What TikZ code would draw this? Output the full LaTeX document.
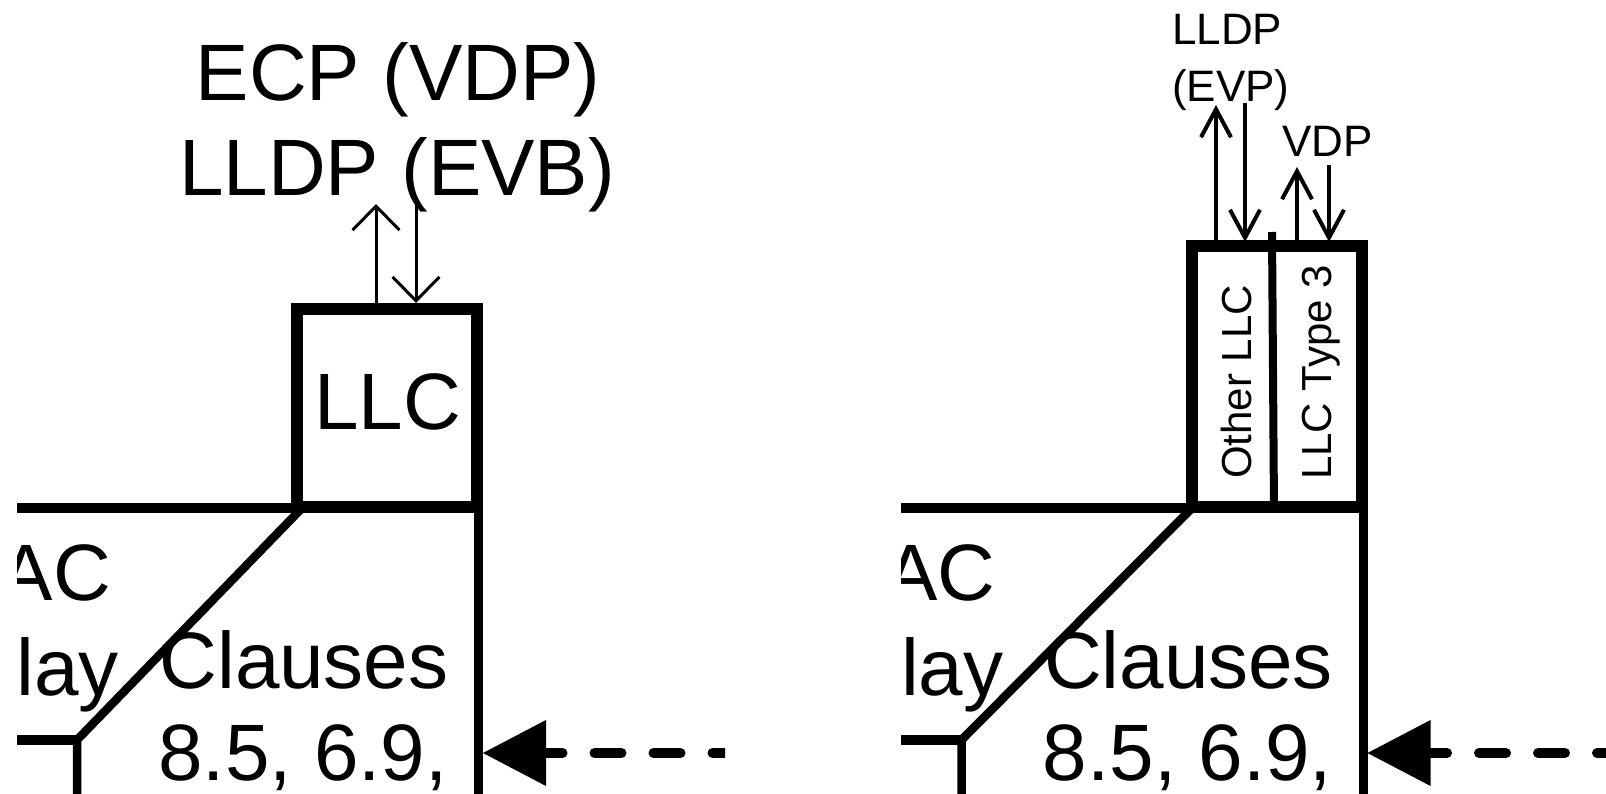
\documentclass[tikz,border=0pt]{standalone}
\usepackage{fontspec}
\setmainfont{Liberation Sans}
\usetikzlibrary{arrows.meta}
\begin{document}
\begin{tikzpicture}[x=1pt,y=-1pt,
  bigtext/.style={font=\fontsize{80}{92}\selectfont, inner sep=0pt, anchor=base},
  smalltext/.style={font=\fontsize{44}{52}\selectfont, inner sep=0pt, anchor=base west},
  rottext/.style={font=\fontsize{42}{50}\selectfont, inner sep=0pt, rotate=90, anchor=base west},
  llcbox/.style={draw, line width=12pt, inner sep=0pt, outer sep=0pt, anchor=north west},
  frameline/.style={line width=9.5pt},
  thinarrowL/.style={line width=3pt, -{Straight Barb[length=24pt,width=47pt]}},
  thinarrowR/.style={line width=4pt, -{Straight Barb[length=28pt,width=30pt]}},
  dasharrow/.style={line width=10pt, line cap=round, dash pattern=on 27pt off 32pt,
    -{Triangle[length=63pt,width=66pt,line width=0pt]}}
]
\useasboundingbox (0,0) rectangle (1606,794);

% ---------- lower structure (two copies) ----------
\foreach \dx/\p/\cl/\dt in {0/L/17/302, 884.5/R/901/307.5} {
  \begin{scope}
    \clip (\cl,-1) rectangle ({\cl+708},795);
    \begin{scope}[xshift=\dx pt]
      \draw[frameline] (10,508) -- (305,508);
      \draw[line width=9pt] (478.5,500) -- (478.5,800);
      \draw[line width=8.5pt] (77,800) -- (77,740) -- (\dt,508);
      \draw[line width=10pt] (10,740) -- (77,740);
      \node[bigtext, anchor=base east] (mac\p) at (111,600) {MAC};
      \node[bigtext, anchor=base east] (relay\p) at (119,695) {Relay};
      \node[bigtext] (clauses\p) at (304,688) {Clauses};
      \node[bigtext] (nums\p) at (303,780) {8.5, 6.9,};
      \coordinate (tip\p) at (483,753);
      \coordinate (start\p) at (739.5,753);
      \draw[dasharrow] (start\p) -- (tip\p);
    \end{scope}
  \end{scope}
}

% ---------- left panel top ----------
\node[llcbox, minimum width=180pt, minimum height=197.5pt] (llcL) at (297,309) {};
\node[bigtext] (llctext) at (387.5,429) {LLC};
\node[bigtext] (ecp) at (398,101) {ECP (VDP)};
\node[bigtext] (lldpevb) at (397,196) {LLDP (EVB)};
\coordinate (upLs) at (376,303);
\coordinate (upLe) at (376,204);
\coordinate (dnLs) at (416,200);
\coordinate (dnLe) at (416,303);
\draw[thinarrowL] (upLs) -- (upLe);
\draw[thinarrowL] (dnLs) -- (dnLe);

% ---------- right panel top ----------
\node[llcbox, minimum width=170pt, minimum height=260.5pt] (llcR) at (1192,246) {};
\coordinate (divtop) at (1272,232);
\coordinate (divbot) at (1274,511);
\draw[line width=8pt] (divtop) -- (divbot);
\node[rottext] (other) at (1251,479) {Other LLC};
\node[rottext] (type3) at (1331.5,480) {LLC Type 3};
\node[smalltext] (lldpR) at (1172,45) {LLDP};
\node[smalltext] (evp) at (1172,102) {(EVP)};
\node[smalltext] (vdp) at (1282,157) {VDP};
\coordinate (u1s) at (1216,242);
\coordinate (u1e) at (1216,105);
\coordinate (d1s) at (1245,103);
\coordinate (d1e) at (1245,242);
\coordinate (u2s) at (1297,242);
\coordinate (u2e) at (1297,167);
\coordinate (d2s) at (1329,165);
\coordinate (d2e) at (1329,242);
\draw[thinarrowR] (u1s) -- (u1e);
\draw[thinarrowR] (d1s) -- (d1e);
\draw[thinarrowR] (u2s) -- (u2e);
\draw[thinarrowR] (d2s) -- (d2e);
\end{tikzpicture}
\end{document}
